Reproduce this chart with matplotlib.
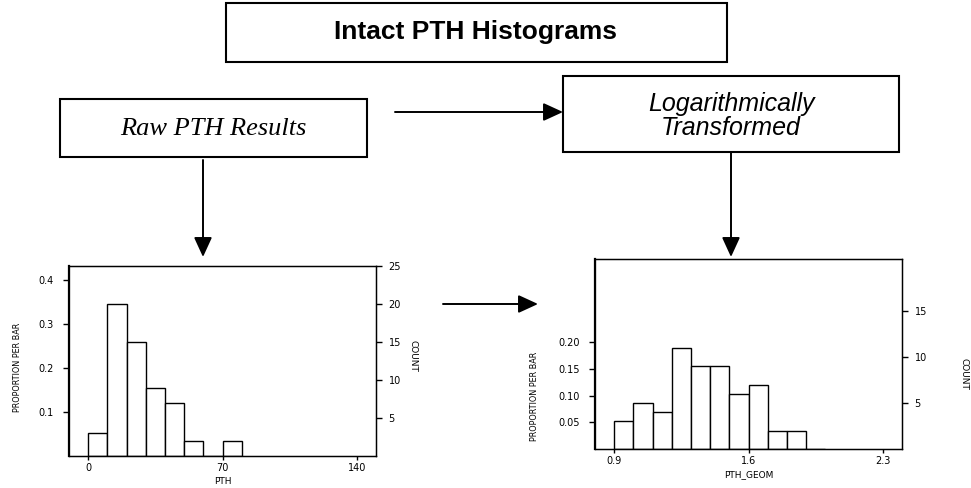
import matplotlib
matplotlib.use("Agg")
import matplotlib.pyplot as plt
import numpy as np

# histogram data (counts per bar)
pth_edges = [0, 10, 20, 30, 40, 50, 60, 70, 80]
pth_counts = [3, 20, 15, 9, 7, 2, 0, 2]
geom_edges = [0.9, 1.0, 1.1, 1.2, 1.3, 1.4, 1.5, 1.6, 1.7, 1.8, 1.9, 2.0]
geom_counts = [3, 5, 4, 11, 9, 9, 6, 7, 2, 2, 0]

title_txt = "Intact PTH Histograms"
raw_txt = "Raw PTH Results"
log_txt = "Logarithmically\nTransformed"

W, H = 971, 488
fig = plt.figure(figsize=(W / 100, H / 100), dpi=100)
tick_font = dict(family="DejaVu Sans", size=7)


def px_axes(x0, y0, x1, y1):
    # pixel box (top-left origin) -> figure fraction
    return [x0 / W, 1 - y1 / H, (x1 - x0) / W, (y1 - y0) / H]


def histo(rect, edges, counts, xlim, xticks, xlabel, ptick, plabels, ctick, ctop,
          ylab_xy, cnt_xy):
    n = sum(counts)
    ax = fig.add_axes(px_axes(*rect))
    width = edges[1] - edges[0]
    ax.bar(edges[:-1], np.array(counts) / n, width=width, align="edge",
           color="white", edgecolor="black", linewidth=1.0)
    ax.set_xlim(*xlim)
    ax.set_ylim(0, ctop / n)
    ax.set_xticks(xticks)
    ax.set_xticklabels([str(t) for t in xticks], **tick_font)
    ax.set_yticks(ptick)
    ax.set_yticklabels(plabels, **tick_font)
    ax.tick_params(axis="x", length=3, width=1, pad=2)
    ax.tick_params(axis="y", length=4, width=1, pad=7)
    for s in ax.spines.values():
        s.set_linewidth(1.0)
    ax.spines["left"].set_linewidth(1.6)
    ax.set_xlabel(xlabel, fontsize=6.5, labelpad=3)
    ax2 = ax.twinx()
    ax2.set_ylim(0, ctop)
    ax2.set_yticks(ctick)
    ax2.set_yticklabels([str(t) for t in ctick], **tick_font)
    ax2.tick_params(length=4, width=1, pad=5)
    fig.text(ylab_xy[0] / W, 1 - ylab_xy[1] / H, "PROPORTION PER BAR",
             rotation=90, ha="center", va="center", fontsize=6.5, fontstretch="condensed")
    fig.text(cnt_xy[0] / W, 1 - cnt_xy[1] / H, "COUNT",
             rotation=270, ha="center", va="center", fontsize=6.5)
    return ax


histo((69, 266, 376, 456), pth_edges, pth_counts, (-10, 150), [0, 70, 140], "PTH",
      [0.1, 0.2, 0.3, 0.4], ["0.1", "0.2", "0.3", "0.4"], [5, 10, 15, 20, 25], 25,
      (17, 367), (413, 356))
histo((595, 259, 902, 449), geom_edges, geom_counts, (0.8, 2.4), [0.9, 1.6, 2.3], "PTH_GEOM",
      [0.05, 0.10, 0.15, 0.20], ["0.05", "0.10", "0.15", "0.20"], [5, 10, 15], 20.65,
      (534, 396), (964, 374))

# flow chart overlay
ov = fig.add_axes([0, 0, 1, 1], facecolor="none")
ov.set_xlim(0, W)
ov.set_ylim(H, 0)
ov.axis("off")


def box(x0, y0, x1, y1):
    ov.add_patch(plt.Rectangle((x0, y0), x1 - x0, y1 - y0, fill=False, lw=1.5, ec="black"))


def arrow(x0, y0, x1, y1):
    ov.annotate("", xy=(x1, y1), xytext=(x0, y0),
                arrowprops=dict(arrowstyle="-|>,head_length=1.2,head_width=0.55",
                                lw=1.4, color="black", shrinkA=0, shrinkB=0))


box(226, 3, 727, 62)
ov.text(476, 32, title_txt, ha="center", va="center", fontsize=19,
        fontweight="bold", family="Liberation Sans")
box(60, 99, 367, 157)
ov.text(213, 129, raw_txt, ha="center", va="center", fontsize=19,
        style="italic", family="Liberation Serif")
box(563, 76, 899, 152)
ov.text(731, 116, log_txt, ha="center", va="center", fontsize=18,
        style="italic", family="Liberation Sans", linespacing=1.0)

arrow(395, 112, 563, 112)
arrow(203, 160, 203, 257)
arrow(731, 153, 731, 257)
arrow(443, 304, 538, 304)

fig.savefig("out.png", dpi=100)
